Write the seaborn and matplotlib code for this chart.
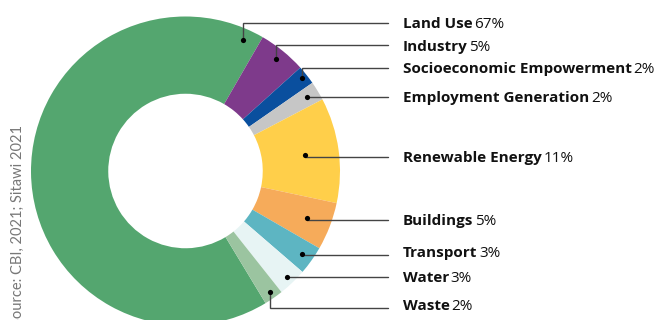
import matplotlib
matplotlib.use("Agg")
import matplotlib.pyplot as plt
import numpy as np
import pandas as pd
import seaborn as sns

# ---- data ----
categories = ["Land Use", "Industry", "Socioeconomic Empowerment", "Employment Generation",
              "Renewable Energy", "Buildings", "Transport", "Water", "Waste"]
shares = [67, 5, 2, 2, 11, 5, 3, 3, 2]
pct_labels = ["67%", "5%", "2%", "2%", "11%", "5%", "3%", "3%", "2%"]
colors = ["#54a66f", "#7e3a8b", "#0a4f9e", "#c6c6c6", "#ffcf4a", "#f6ab5a",
          "#5db5c2", "#e7f4f4", "#9bc4a0"]
source = "Source: CBI, 2021; Sitawi 2021"

# ---- layout (pixel-like coordinates, y up) ----
W, H = 663, 320
cx, cy, R = 185.5, 320 - 171, 154.5
hole = 0.5
anchor_frac = [0.026, 0.5, 0.5, 0.5, 0.5, 0.5, 0.5, 0.5, 0.5]
anchor_r = [0.925, 0.93, 0.965, 0.92, 0.78, 0.84, 0.925, 0.95, 0.955]
line_y_px = [23, 45, 68, 97, 157, 220, 255, 277, 308]
baseline_y_px = [28, 51, 73, 102, 162, 225, 257, 282, 310]
line_end_x = 388
text_x = 403

sns.set_theme(style="white")
plt.rcParams["font.family"] = ["Open Sans", "DejaVu Sans"]

fig = plt.figure(figsize=(W / 100, H / 100), dpi=100)
ax = fig.add_axes([0, 0, 1, 1])

wedges, _ = ax.pie(shares, colors=colors, startangle=60 + 3.6 * shares[0],
                   counterclock=False, center=(cx, cy), radius=R,
                   wedgeprops=dict(width=R * (1 - hole), linewidth=0),
                   frame=True)

dots = []
for i, w in enumerate(wedges):
    t1, t2 = w.theta1, w.theta2
    ang = np.deg2rad(t1 + (t2 - t1) * anchor_frac[i])
    dx = cx + R * anchor_r[i] * np.cos(ang)
    dy = cy + R * anchor_r[i] * np.sin(ang)
    dots.append((dx, dy))
    ly = H - line_y_px[i]
    ax.plot([dx, dx, line_end_x], [dy, ly, ly], color="#444444", lw=1.0,
            solid_joinstyle="miter", zorder=3)

dot_df = pd.DataFrame({"x": [d[0] for d in dots], "y": [d[1] for d in dots]})
sns.scatterplot(data=dot_df, x="x", y="y", ax=ax, color="black", s=14,
                linewidth=0, zorder=4, legend=False)
ax.set_xlim(0, W)
ax.set_ylim(0, H)
ax.set_aspect("equal")
ax.axis("off")

names = []
for i, name in enumerate(categories):
    t = ax.text(text_x, H - baseline_y_px[i], name, fontsize=11, fontweight="bold",
                color="#111111", va="baseline", ha="left")
    names.append(t)

fig.canvas.draw()
renderer = fig.canvas.get_renderer()
inv = ax.transData.inverted()
for i, t in enumerate(names):
    bb = t.get_window_extent(renderer)
    x_right = inv.transform((bb.x1, bb.y0))[0]
    ax.text(x_right + 1.5, H - baseline_y_px[i], pct_labels[i], fontsize=11,
            color="#111111", va="baseline", ha="left")

ax.text(18, H - 125, source, rotation=90, fontsize=10.5, color="#777777",
        ha="center", va="top", family=["Lato", "DejaVu Sans"])

fig.savefig("out.png", dpi=100)
